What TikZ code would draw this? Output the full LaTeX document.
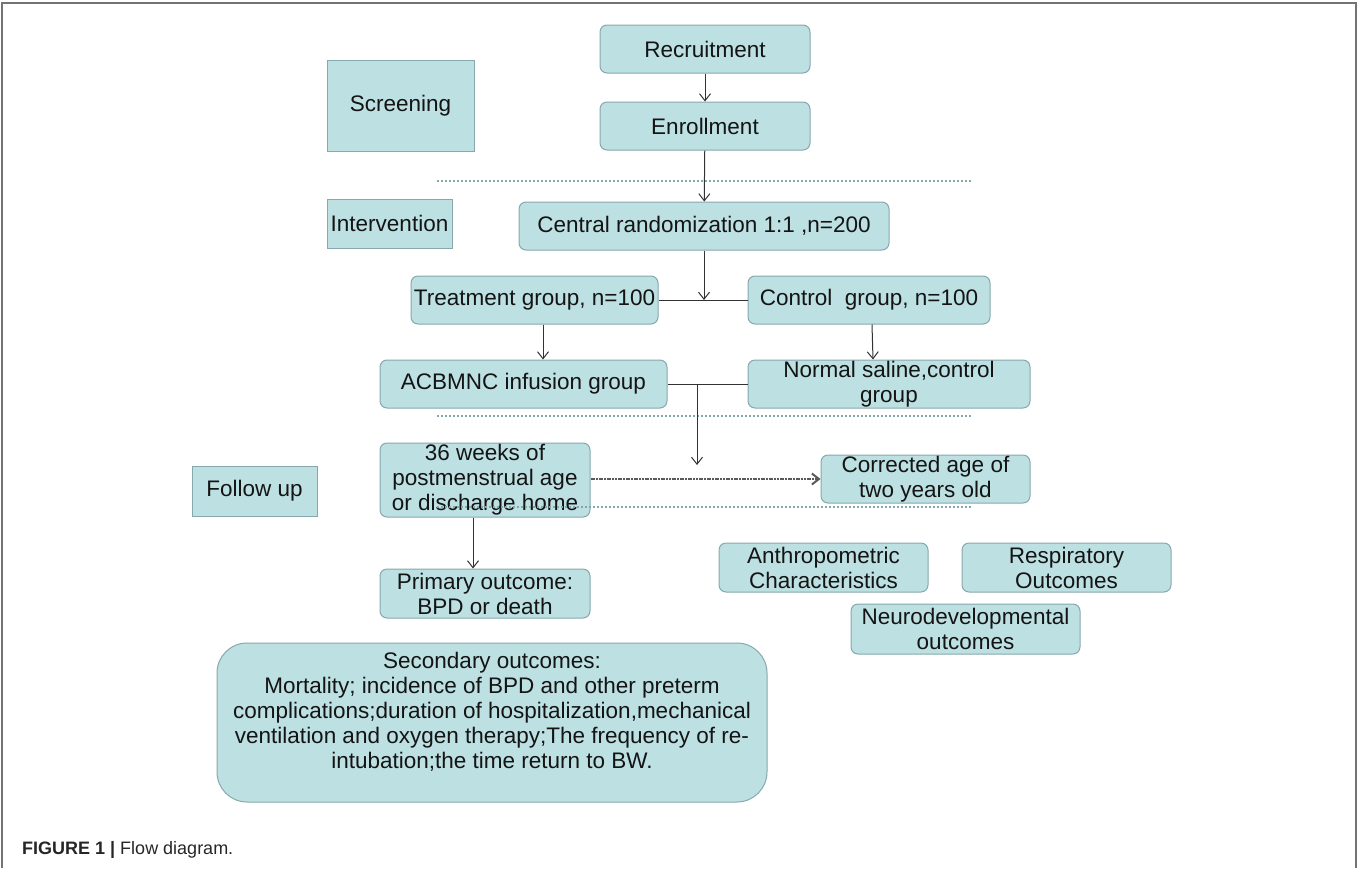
\documentclass[tikz,border=0pt]{standalone}
\usepackage{fontspec}
\setmainfont{Liberation Sans}
\usetikzlibrary{arrows.meta}
\definecolor{boxfill}{RGB}{189,224,227}
\definecolor{boxline}{RGB}{135,168,172}
\definecolor{dotc}{RGB}{130,168,168}
\definecolor{txt}{RGB}{20,20,20}
\tikzset{
  box/.style={draw=boxline, fill=boxfill, rounded corners=7pt, line width=1pt, align=center,
    inner sep=0pt, text=txt, font=\fontsize{22.5}{25}\selectfont},
  sq/.style={box, rounded corners=0pt},
  link/.style={draw=black!80, line width=1pt},
  arr/.style={link, -{Straight Barb[length=7pt,width=11pt]}},
  dotline/.style={draw=dotc, line width=2.4pt, dash pattern=on 2pt off 2pt},
  frame/.style={draw=black!55, line width=2pt}
}
\begin{document}
\begin{tikzpicture}[x=1pt,y=-1pt]
\useasboundingbox (0,0) rectangle (1358,868);
% frame
\draw[frame] (2,868) -- (2,3) -- (1356,3) -- (1356,868);
% dotted separators (below boxes)
\draw[dotline] (437,181) -- (972,181);
\draw[dotline] (437,416) -- (972,416);
% boxes
\node[box, minimum width=210pt, minimum height=48pt] (rec) at (705,49) {Recruitment};
\node[box, minimum width=210pt, minimum height=48pt] (enr) at (705,126) {Enrollment};
\node[sq, minimum width=147pt, minimum height=91pt] (scr) at (400.5,105.5) {Screening};
\node[sq, minimum width=125pt, minimum height=49pt] (int) at (389.5,223.5) {Intervention};
\node[box, minimum width=370pt, minimum height=48pt] (cr) at (704,226) {Central randomization 1:1 ,n=200};
\node[box, minimum width=247pt, minimum height=48pt] (trt) at (534.5,300) {Treatment group, n=100};
\node[box, minimum width=242pt, minimum height=48pt] (ctl) at (869,300) {Control\ \ group, n=100};
\node[box, minimum width=287pt, minimum height=48pt] (acb) at (523.5,384) {ACBMNC infusion group};
\node[box, minimum width=282pt, minimum height=48pt] (ns) at (889,384) {Normal saline,control\\group};
\node[box, minimum width=210pt, minimum height=74pt] (wk) at (485,480) {36 weeks of\\postmenstrual age\\or discharge home};
\node[box, minimum width=209pt, minimum height=48pt] (cor) at (925.5,479) {Corrected age of\\two years old};
\node[sq, minimum width=125pt, minimum height=50pt] (fu) at (254.5,491) {Follow up};
\node[box, minimum width=210pt, minimum height=49pt] (prim) at (485,593.5) {Primary outcome:\\BPD or death};
\node[box, minimum width=209pt, minimum height=49pt] (anth) at (823.5,567.5) {Anthropometric\\Characteristics};
\node[box, minimum width=209pt, minimum height=49pt] (resp) at (1066.5,567.5) {Respiratory\\Outcomes};
\node[box, minimum width=229pt, minimum height=50pt] (neuro) at (965.5,629) {Neurodevelopmental\\outcomes};
\node[box, rounded corners=30pt, minimum width=550pt, minimum height=159pt] (sec) at (492,722.5)
  {Secondary outcomes:\\Mortality; incidence of BPD and other preterm\\complications;duration of hospitalization,mechanical\\ventilation and oxygen therapy;The frequency of re-\\intubation;the time return to BW.\\~};
% dotted line drawn over the 36-weeks box
\draw[dotline] (437,507) -- (972,507);
% connectors
\draw[arr] (rec) -- (enr);
\draw[arr] (enr) -- (cr);
\draw[link] (trt.east) -- (ctl.west);
\draw[arr] (cr.south) -- (cr.south |- trt.east);
\draw[arr] ([xshift=8.5pt]trt.south) -- ([xshift=8.5pt]trt.south |- acb.north);
\draw[arr] ([xshift=3pt]ctl.south) -- ([xshift=4pt]ctl.south |- ns.north);
\draw[link] (acb.east) -- (ns.west);
\coordinate (j2) at (697,384);
\coordinate (j2end) at (697,465);
\draw[arr] (j2) -- (j2end);
\draw[arr, draw=black!65, line width=2pt, dash pattern=on 2pt off 0.7pt] (wk.east |- cor.west) -- (cor.west);
\draw[arr] ([xshift=-12pt]wk.south) -- ([xshift=-12pt]wk.south |- prim.north);
% caption
\node[anchor=base west, inner sep=0pt, text=black!85, font=\fontsize{18}{21}\selectfont] (cap) at (22,854)
  {\textbf{FIGURE 1 |} Flow diagram.};
\end{tikzpicture}
\end{document}
